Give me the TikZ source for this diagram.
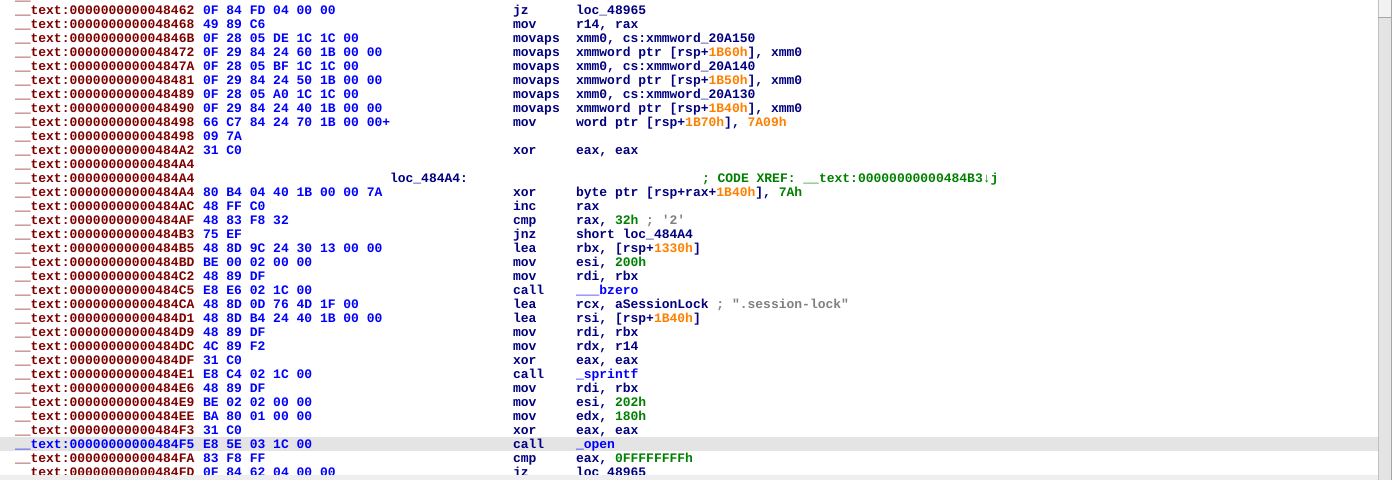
\documentclass[tikz,border=0pt]{standalone}
\usepackage{fontspec}
\setmonofont{Liberation Mono}
\definecolor{addrred}{HTML}{800000}
\definecolor{hexblue}{HTML}{0000FF}
\definecolor{mnavy}{HTML}{000080}
\definecolor{numorange}{HTML}{FF8000}
\definecolor{numgreen}{HTML}{008000}
\definecolor{cmtgray}{HTML}{808080}
\definecolor{hilite}{HTML}{E4E4E4}
\definecolor{stripgray}{HTML}{EEEEEE}
\tikzset{
  asm/.style={anchor=base west,inner sep=0pt,outer sep=0pt,font=\ttfamily\bfseries\fontsize{13}{14}\selectfont},
  addrtext/.style={asm,text=addrred},
  hextext/.style={asm,text=hexblue},
  optext/.style={asm,text=mnavy},
  xreftext/.style={asm,text=numgreen},
}
\newcommand{\numo}[1]{\textcolor{numorange}{#1}}
\newcommand{\numg}[1]{\textcolor{numgreen}{#1}}
\newcommand{\cmtg}[1]{\textcolor{cmtgray}{#1}}
\newcommand{\lnkb}[1]{\textcolor{hexblue}{#1}}
\newcounter{asmrow}
\newcommand{\rowbase}{\the\numexpr 14+14*\value{asmrow}\relax}
\newcommand{\addronly}[2][addrred]{%
  \node[addrtext,text=#1] (addr\theasmrow) at (15,\rowbase) {\_\_text:#2};}
\newcommand{\asmline}[5][addrred]{%
  \addronly[#1]{#2}
  \node[hextext] (hex\theasmrow) at (203,\rowbase) {#3};
  \node[optext] (mn\theasmrow) at (513,\rowbase) {#4};
  \node[optext] (ops\theasmrow) at (576,\rowbase) {#5};
  \stepcounter{asmrow}}
\newcommand{\hexline}[2]{%
  \addronly{#1}
  \node[hextext] (hex\theasmrow) at (203,\rowbase) {#2};
  \stepcounter{asmrow}}
\newcommand{\bareline}[1]{\addronly{#1}\stepcounter{asmrow}}
\begin{document}
\begin{tikzpicture}[x=1pt,y=-1pt]
\useasboundingbox (0,0) rectangle (1392,480);
\clip (0,0) rectangle (1392,480);
\fill[white] (0,0) rectangle (1392,480);
\fill[hilite] (0,437) rectangle (1378,451);
\node[addrtext] (toprow) at (15,0) {\_\_};
\asmline{0000000000048462}{0F 84 FD 04 00 00}{jz}{loc\_48965}
\asmline{0000000000048468}{49 89 C6}{mov}{r14, rax}
\asmline{000000000004846B}{0F 28 05 DE 1C 1C 00}{movaps}{xmm0, cs:xmmword\_20A150}
\asmline{0000000000048472}{0F 29 84 24 60 1B 00 00}{movaps}{xmmword ptr [rsp+\numo{1B60h}], xmm0}
\asmline{000000000004847A}{0F 28 05 BF 1C 1C 00}{movaps}{xmm0, cs:xmmword\_20A140}
\asmline{0000000000048481}{0F 29 84 24 50 1B 00 00}{movaps}{xmmword ptr [rsp+\numo{1B50h}], xmm0}
\asmline{0000000000048489}{0F 28 05 A0 1C 1C 00}{movaps}{xmm0, cs:xmmword\_20A130}
\asmline{0000000000048490}{0F 29 84 24 40 1B 00 00}{movaps}{xmmword ptr [rsp+\numo{1B40h}], xmm0}
\asmline{0000000000048498}{66 C7 84 24 70 1B 00 00+}{mov}{word ptr [rsp+\numo{1B70h}], \numo{7A09h}}
\hexline{0000000000048498}{09 7A}
\asmline{00000000000484A2}{31 C0}{xor}{eax, eax}
\bareline{00000000000484A4}
\addronly{00000000000484A4}
\node[optext] (loclabel) at (390,\rowbase) {loc\_484A4:};
\node[xreftext] (xref) at (702,\rowbase) {; CODE XREF: \_\_text:00000000000484B3↓j};
\stepcounter{asmrow}
\asmline{00000000000484A4}{80 B4 04 40 1B 00 00 7A}{xor}{byte ptr [rsp+rax+\numo{1B40h}], \numg{7Ah}}
\asmline{00000000000484AC}{48 FF C0}{inc}{rax}
\asmline{00000000000484AF}{48 83 F8 32}{cmp}{rax, \numg{32h} \cmtg{; '2'}}
\asmline{00000000000484B3}{75 EF}{jnz}{short loc\_484A4}
\asmline{00000000000484B5}{48 8D 9C 24 30 13 00 00}{lea}{rbx, [rsp+\numo{1330h}]}
\asmline{00000000000484BD}{BE 00 02 00 00}{mov}{esi, \numg{200h}}
\asmline{00000000000484C2}{48 89 DF}{mov}{rdi, rbx}
\asmline{00000000000484C5}{E8 E6 02 1C 00}{call}{\lnkb{\_\_\_bzero}}
\asmline{00000000000484CA}{48 8D 0D 76 4D 1F 00}{lea}{rcx, aSessionLock \cmtg{; ".session-lock"}}
\asmline{00000000000484D1}{48 8D B4 24 40 1B 00 00}{lea}{rsi, [rsp+\numo{1B40h}]}
\asmline{00000000000484D9}{48 89 DF}{mov}{rdi, rbx}
\asmline{00000000000484DC}{4C 89 F2}{mov}{rdx, r14}
\asmline{00000000000484DF}{31 C0}{xor}{eax, eax}
\asmline{00000000000484E1}{E8 C4 02 1C 00}{call}{\lnkb{\_sprintf}}
\asmline{00000000000484E6}{48 89 DF}{mov}{rdi, rbx}
\asmline{00000000000484E9}{BE 02 02 00 00}{mov}{esi, \numg{202h}}
\asmline{00000000000484EE}{BA 80 01 00 00}{mov}{edx, \numg{180h}}
\asmline{00000000000484F3}{31 C0}{xor}{eax, eax}
\asmline[hexblue]{00000000000484F5}{E8 5E 03 1C 00}{call}{\lnkb{\_open}}
\asmline{00000000000484FA}{83 F8 FF}{cmp}{eax, \numg{0FFFFFFFFh}}
\asmline{00000000000484FD}{0F 84 62 04 00 00}{jz}{loc\_48965}
% horizontal scrollbar strip
\fill[stripgray] (0,475) rectangle (1378,480);
% vertical scrollbar
\fill[hilite] (1378,0) rectangle (1392,480);
\fill[black!5] (1378,0) rectangle (1392,17);
\draw[black!25,line width=1pt] (1378.5,0) -- (1378.5,480);
\draw[black!35,line width=1pt] (1391.5,0) -- (1391.5,480);
\draw[black!35,line width=1pt] (1378,17) -- (1392,17);
\end{tikzpicture}
\end{document}
